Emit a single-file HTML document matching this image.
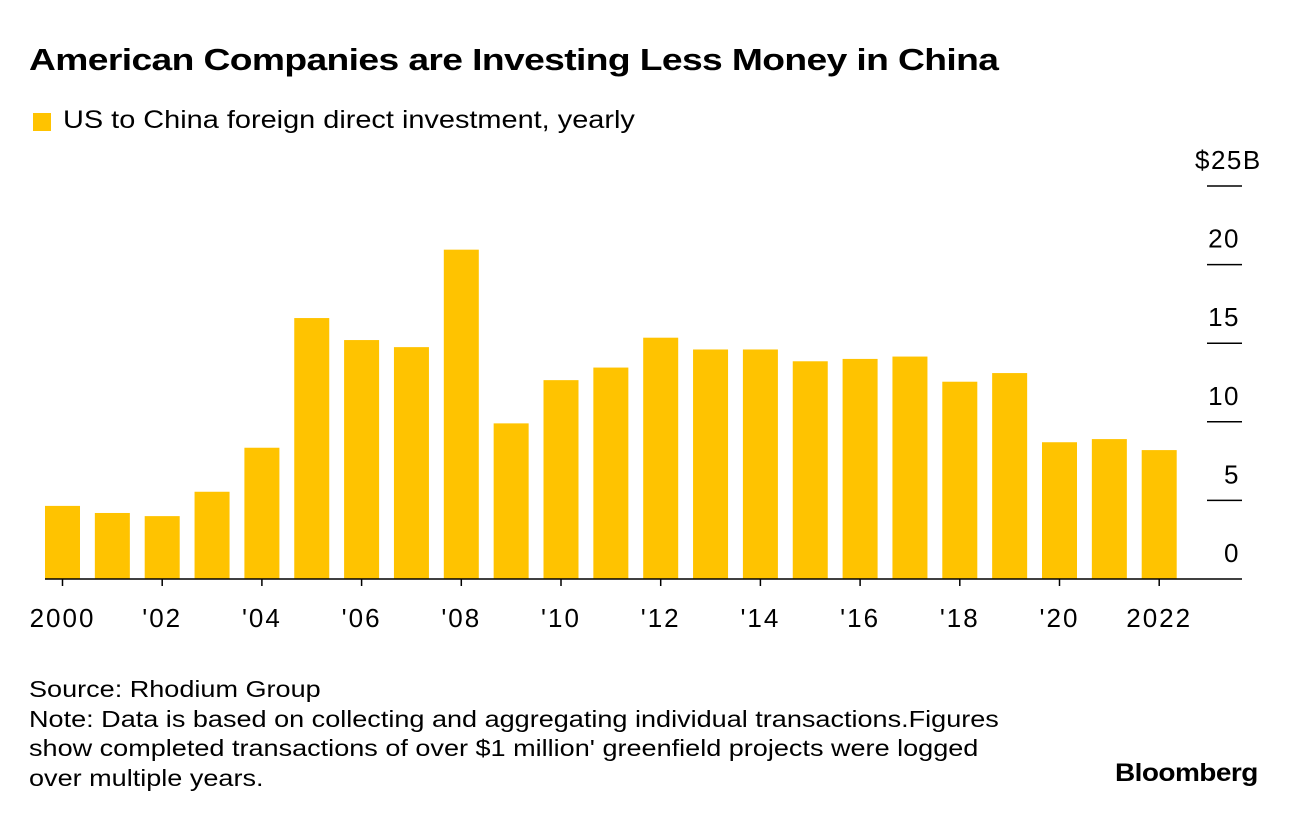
<!DOCTYPE html>
<html><head><meta charset="utf-8"><style>
body{margin:0;background:#fff;font-family:"Liberation Sans",sans-serif;color:#000}
#wrap{position:relative;width:1296px;height:818px;overflow:hidden}
.t{position:absolute;white-space:nowrap;transform-origin:0 0}
</style></head><body><div id="wrap">
<div class="t" style="left:29px;top:42px;font-size:31px;font-weight:bold;letter-spacing:-0.5px;transform:scaleX(1.2)">American Companies are Investing Less Money in China</div>
<div style="position:absolute;left:33px;top:113px;width:18px;height:18px;background:#ffc300"></div>
<div class="t" style="left:63px;top:106px;font-size:25px;transform:scaleX(1.156)">US to China foreign direct investment, yearly</div>
<svg id="chart" width="1296" height="818" style="position:absolute;left:0;top:0"></svg>
<div class="t" style="left:29px;top:675px;font-size:23px;line-height:29.5px;transform:scaleX(1.176)">Source: Rhodium Group<br>Note: Data is based on collecting and aggregating individual transactions.Figures<br>show completed transactions of over $1 million' greenfield projects were logged<br>over multiple years.</div>
<div class="t" style="left:1115px;top:759px;font-size:25px;font-weight:bold;letter-spacing:-0.5px;transform:scaleX(1.12)">Bloomberg</div>
</div>
<script>
const years=[2000,2001,2002,2003,2004,2005,2006,2007,2008,2009,2010,2011,2012,2013,2014,2015,2016,2017,2018,2019,2020,2021,2022];
const values=[4.65,4.2,4.0,5.55,8.35,16.6,15.2,14.75,20.95,9.9,12.65,13.45,15.35,14.6,14.6,13.85,14.0,14.15,12.55,13.1,8.7,8.9,8.2];
const yTicks=[0,5,10,15,20,25];
const yTickLabels=["0","5","10","15","20","$25B"];
const xLabels={2000:"2000",2002:"'02",2004:"'04",2006:"'06",2008:"'08",2010:"'10",2012:"'12",2014:"'14",2016:"'16",2018:"'18",2020:"'20",2022:"2022"};
const NS="http://www.w3.org/2000/svg";
const svg=document.getElementById('chart');
const y0=579,pxPer=(579-186)/25;
const y=v=>y0-v*pxPer;
const x=yr=>62.5+(yr-2000)*49.85;
const bw=35;
function mk(t,a){const e=document.createElementNS(NS,t);for(const k in a)e.setAttribute(k,a[k]);svg.appendChild(e);return e;}
years.forEach((yr,i)=>{
 const r=mk('rect',{x:x(yr)-bw/2,y:y(values[i]),width:bw,height:y0-y(values[i]),fill:'#ffc300'});
 
 
});
yTicks.forEach((v,i)=>{
 if(v>0){const l=mk('line',{x1:1207,x2:1242,y1:y(v),y2:y(v),stroke:'#000','stroke-width':1.5});
 
 }
 const top=(i===yTicks.length-1);
 const t=mk('text',{x:top?1195:1240,y:y(v)-17,'text-anchor':top?'start':'end','font-size':26,'letter-spacing':1.5,'font-family':'Liberation Sans, sans-serif'});
 t.textContent=yTickLabels[i];
 
 
});
const base=mk('line',{x1:45,x2:1242,y1:y0,y2:y0,stroke:'#000','stroke-width':1.5});


years.forEach(yr=>{
 if(!xLabels[yr])return;
 const tk=mk('line',{x1:x(yr),x2:x(yr),y1:y0,y2:y0+7,stroke:'#000','stroke-width':1.5});
 
 
 const t=mk('text',{x:x(yr),y:627,'text-anchor':'middle','font-size':26,'letter-spacing':2,'font-family':'Liberation Sans, sans-serif'});
 t.textContent=xLabels[yr];
 
 
});
</script>
</body></html>
